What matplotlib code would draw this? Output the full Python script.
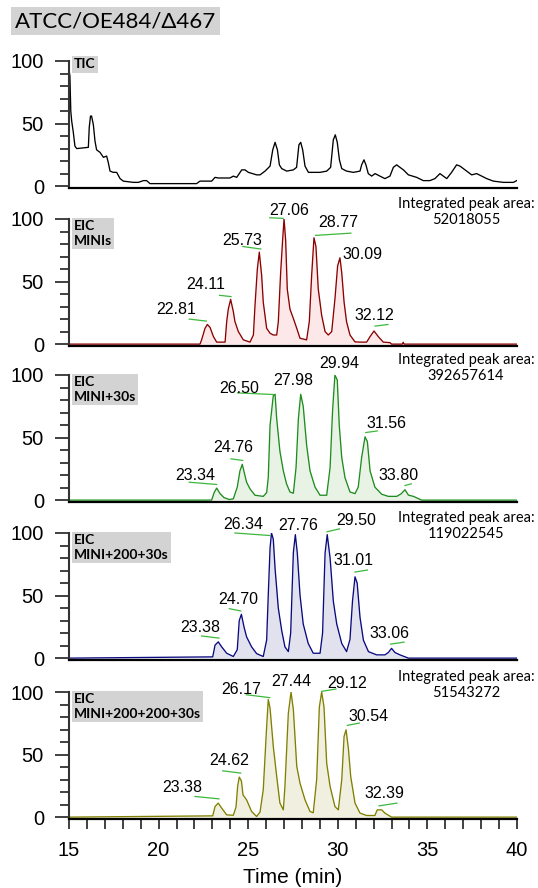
import numpy as np
import matplotlib
matplotlib.use('Agg')
import matplotlib.pyplot as plt
from matplotlib.ticker import MultipleLocator

# ---- data ----
title = 'ATCC/OE484/\u0394467'

tic_t = [15.00, 15.05, 15.10, 15.15, 15.24, 15.33, 15.43, 16.08, 16.13, 16.20,
         16.26, 16.36, 16.45, 16.54, 16.73, 16.92, 17.10, 17.19, 17.29, 17.47,
         17.66, 17.85, 18.03, 18.59, 18.87, 19.15, 19.33, 19.52, 20.08, 22.12,
         22.31, 22.96, 23.15, 23.33, 23.98, 24.17, 24.36, 24.64, 24.82, 25.01,
         25.47, 25.66, 25.94, 26.22, 26.37, 26.50, 26.63, 26.74, 26.87, 27.15,
         27.52, 27.70, 27.83, 27.93, 28.04, 28.17, 28.36, 28.63, 29.01, 29.38,
         29.60, 29.75, 29.86, 29.97, 30.09, 30.22, 30.49, 30.87, 31.24, 31.33,
         31.46, 31.57, 31.70, 31.89, 32.08, 32.35, 32.63, 32.91, 33.10, 33.28,
         33.47, 33.66, 33.94, 34.40, 34.77, 35.14, 35.42, 35.70, 35.89, 36.08,
         36.35, 36.63, 36.82, 37.10, 37.47, 37.75, 38.03, 38.31, 38.68, 39.24,
         39.80, 39.98]
tic_i = [93, 88, 60, 52, 43, 32, 30, 31, 47, 56,
         56, 49, 36, 29, 27, 23, 24, 19, 12, 11,
         11, 6, 4, 3, 3, 4.4, 4.4, 2, 2, 2,
         4, 4, 7, 6.5, 6.5, 8, 7, 13, 13, 11,
         9, 9, 12, 16, 29, 35, 29, 17, 14, 12,
         13, 15, 33, 35, 29, 16, 11, 11, 11, 12,
         15, 37, 41, 35, 21, 14, 12, 11, 12, 17,
         21, 17, 10, 8, 10, 8, 6, 8, 15, 17,
         15, 13, 9, 7, 4.4, 4.4, 6, 10, 8, 6,
         11, 17, 16, 13, 9, 10, 8, 6, 4, 3,
         3, 4.4]

red_t = [15.0, 22.31, 22.40, 22.59, 22.72, 22.87, 23.05, 23.24, 23.71, 23.80,
         23.89, 24.02, 24.17, 24.26, 24.45, 24.73, 25.10, 25.29, 25.38, 25.51,
         25.62, 25.75, 25.84, 26.03, 26.22, 26.40, 26.59, 26.68, 26.81, 26.92,
         27.00, 27.09, 27.18, 27.33, 27.52, 27.71, 27.89, 28.26, 28.41, 28.54,
         28.67, 28.78, 28.91, 29.10, 29.29, 29.47, 29.66, 29.84, 29.99, 30.12,
         30.22, 30.35, 30.49, 30.68, 30.96, 31.24, 31.61, 31.80, 32.02, 32.26,
         32.54, 32.91, 33.00, 33.60, 33.65, 33.70, 40.0]
red_i = [0, 0, 3.4, 12.6, 15.7, 13.4, 6.3, 1.6, 1.6, 18,
         28, 35.7, 26, 18, 10, 3.4, 1.6, 7.3, 31, 60,
         73.5, 55, 33.6, 12.6, 8.7, 7.3, 7.3, 17.8, 57, 83,
         100, 83, 44, 28, 20.5, 12.6, 4.7, 3.4, 18, 54.6,
         85, 78, 44, 23, 10, 7.3, 10, 36, 62.5, 69,
         57, 33.6, 17.8, 7.3, 1.8, 1.6, 1.6, 6, 10.5, 6,
         1.6, 1.2, 0, 0, 1.5, 0, 0]

grn_t = [15.0, 22.96, 23.10, 23.24, 23.43, 23.65, 23.95, 24.17, 24.39, 24.54,
         24.67, 24.78, 24.91, 25.10, 25.38, 25.84, 26.03, 26.12, 26.22, 26.40,
         26.50, 26.59, 26.77, 26.96, 27.14, 27.33, 27.52, 27.67, 27.80, 27.93,
         28.07, 28.26, 28.45, 28.73, 29.01, 29.38, 29.57, 29.71, 29.84, 29.97,
         30.08, 30.22, 30.40, 30.68, 30.96, 31.14, 31.33, 31.52, 31.65, 31.80,
         32.07, 32.45, 32.82, 33.29, 33.53, 33.75, 33.94, 34.22, 34.68, 40.0]
grn_i = [0, 0, 6, 9.6, 5.2, 2, 0.5, 1, 10.4, 23.4,
         28.6, 22, 14.3, 9, 3.9, 3, 6, 18, 60, 83.4,
         84.6, 65, 39, 23.4, 13, 6.5, 5.5, 26, 65, 84.6,
         75, 44, 23.4, 10.4, 3.9, 3.9, 26, 72, 100, 96,
         60, 34, 18, 6.5, 5.2, 10.4, 34, 50.6, 46.8, 23.4,
         10.4, 4.7, 3, 3, 5, 8.3, 4, 3, 0, 0]

nav_t = [15.0, 23.02, 23.15, 23.33, 23.52, 23.80, 24.17, 24.39, 24.50, 24.62,
         24.77, 24.91, 25.19, 25.47, 25.84, 26.03, 26.12, 26.22, 26.30, 26.40,
         26.50, 26.68, 26.87, 27.05, 27.24, 27.37, 27.52, 27.63, 27.74, 27.89,
         28.07, 28.35, 28.63, 29.01, 29.15, 29.29, 29.41, 29.57, 29.75, 29.94,
         30.22, 30.49, 30.68, 30.82, 30.96, 31.08, 31.24, 31.43, 31.71, 32.17,
         32.63, 32.82, 33.00, 33.19, 33.47, 33.94, 40.0]
nav_i = [0, 1, 10.4, 13, 9, 3.9, 1.3, 6.8, 30, 35,
         24.7, 17, 9, 3.6, 1.3, 14.5, 50.6, 88, 100, 95,
         71.5, 40, 22, 9, 5.2, 20, 84.4, 98.7, 84, 50.6,
         27.3, 11.7, 3.9, 3.9, 20, 84, 98.7, 80, 45.5, 27.3,
         11.7, 5.2, 15, 45.5, 65, 60, 32.5, 14.3, 5.2, 2.6,
         2.6, 4.5, 7.8, 4.5, 2.6, 0, 0]

olv_t = [15.0, 23.02, 23.15, 23.33, 23.52, 23.80, 24.17, 24.32, 24.41, 24.50,
         24.62, 24.71, 24.91, 25.19, 25.47, 25.66, 25.84, 26.03, 26.12, 26.22,
         26.40, 26.59, 26.77, 26.96, 27.05, 27.24, 27.39, 27.52, 27.71, 27.89,
         28.17, 28.45, 28.63, 28.82, 28.97, 29.10, 29.23, 29.38, 29.57, 29.84,
         30.03, 30.22, 30.35, 30.46, 30.59, 30.72, 30.96, 31.24, 31.61, 32.07,
         32.20, 32.45, 32.63, 33.00, 40.0]
olv_i = [0, 1, 8.5, 11.2, 7.2, 1.8, 1.5, 8, 24.5, 32,
         29, 17.8, 13.8, 4.5, 0.5, 4, 21.8, 72.5, 94, 87,
         56.5, 32.5, 11.2, 5.8, 24.5, 83, 100, 85.8, 40.5, 27.2,
         13.8, 4.5, 3.5, 30, 88, 100, 88, 43, 24.5, 8.5,
         5.8, 29.8, 64.5, 69.8, 55, 32.5, 11.2, 3.2, 1.3, 1.3,
         5.8, 5.8, 3.2, 0, 0]

panel_names = ['TIC', 'EIC\nMINIs', 'EIC\nMINI+30s', 'EIC\nMINI+200+30s', 'EIC\nMINI+200+200+30s']
peak_areas = [None, '52018055', '392657614', '119022545', '51543272']

red_lbl = ['22.81', '24.11', '25.73', '27.06', '28.77', '30.09', '32.12']
grn_lbl = ['23.34', '24.76', '26.50', '27.98', '29.94', '31.56', '33.80']
nav_lbl = ['23.38', '24.70', '26.34', '27.76', '29.50', '31.01', '33.06']
olv_lbl = ['23.38', '24.62', '26.17', '27.44', '29.12', '30.54', '32.39']

# ---- label layout (text centre and green leader line, data coords) ----
red_txt = [(20.97, 28), (22.6, 48), (24.65, 83), (27.26, 107), (30.0, 97), (31.4, 72), (32.05, 23)]
red_lead = [(21.71, 20, 22.67, 18.4), (23.4, 39, 24.04, 38), (24.7, 78, 25.7, 76), (26.2, 101, 26.95, 100.5),
            (28.76, 86.9, 30.73, 88.7), None, (32.08, 14.4, 32.8, 15.7)]
grn_txt = [(22.05, 19.5), (24.15, 42), (24.5, 89.6), (27.5, 96), (30.1, 109), (32.7, 61), (33.4, 19.5)]
grn_lead = [(21.71, 14.3, 23.24, 12.5), (24.04, 33, 24.69, 31.7), (24.4, 85.7, 26.4, 84.4), None, None,
            (31.56, 54, 32.2, 55.3), (33.75, 11.7, 34.1, 13)]
nav_txt = [(22.3, 24.7), (24.43, 46.7), (24.7, 106.5), (27.8, 105.7), (31.0, 110), (30.9, 77.9), (32.9, 20)]
nav_lead = [(22.4, 17.7, 23.37, 16), (23.95, 39.5, 24.58, 37.7), (24.26, 100, 26.2, 98), None,
            (29.4, 101, 30.1, 103.3), (30.96, 68.8, 31.65, 70.4), (32.95, 11.2, 33.7, 12.8)]
olv_txt = [(21.3, 24), (23.96, 45), (24.6, 102), (27.4, 108), (30.5, 107), (31.7, 80.5), (32.6, 18.6)]
olv_lead = [(22.03, 16.5, 23.37, 14.6), (23.58, 37, 24.58, 35.2), (24.9, 97.8, 26.2, 95.5), None,
            (29.1, 100.5, 29.9, 102.4), (30.53, 73.3, 31.2, 75.2), (32.3, 9, 33.3, 11.2)]

traces = [(tic_t, tic_i), (red_t, red_i), (grn_t, grn_i), (nav_t, nav_i), (olv_t, olv_i)]
line_cols = ['black', '#8b0000', '#1f8c1f', '#0a0a80', '#808000']
fill_cols = [None, '#fce8e8', '#e8f3e6', '#e2e2ef', '#f1f0e0']
labels = [None, (red_lbl, red_txt, red_lead), (grn_lbl, grn_txt, grn_lead),
          (nav_lbl, nav_txt, nav_lead), (olv_lbl, olv_txt, olv_lead)]

plt.rcParams['font.family'] = ['Liberation Sans', 'DejaVu Sans']
calibri = ['Lato', 'DejaVu Sans']

W, H = 538.0, 888.0
left_px, right_px = 69, 517
tops_px = [61, 219, 375, 533, 692]
height_px = 127
box_grey = '#d3d3d3'

fig = plt.figure(figsize=(W / 100, H / 100), dpi=100)
fig.text(15 / W, 1 - 21 / H, title, fontsize=16, family=calibri, ha='left', va='center',
         bbox=dict(facecolor=box_grey, edgecolor='none', pad=3))

for k in range(5):
    ax = fig.add_axes([left_px / W, 1 - (tops_px[k] + height_px) / H,
                       (right_px - left_px) / W, height_px / H])
    t, y = traces[k]
    if fill_cols[k]:
        ax.fill_between(t, y, 0, color=fill_cols[k], lw=0)
    ax.plot(t, y, color=line_cols[k], lw=0.95)

    ax.set_xlim(15, 40)
    ax.set_ylim(-1.5, 100)
    ax.spines['top'].set_visible(False)
    ax.spines['right'].set_visible(False)
    ax.spines['left'].set_linewidth(1.5)
    ax.spines['left'].set_color('#333333')
    ax.spines['bottom'].set_linewidth(1.6)
    ax.spines['bottom'].set_color('black')
    ax.yaxis.set_major_locator(MultipleLocator(50))
    ax.yaxis.set_minor_locator(MultipleLocator(10))
    ax.tick_params(axis='y', which='major', length=10, width=1.3, pad=8, labelsize=14.5, color='#333333')
    ax.tick_params(axis='y', which='minor', length=6.5, width=1.3, color='#333333')
    if k == 4:
        ax.xaxis.set_major_locator(MultipleLocator(5))
        ax.xaxis.set_minor_locator(MultipleLocator(1))
        ax.tick_params(axis='x', which='both', length=7.5, width=1.3, pad=8, labelsize=14.5, color='#333333')
        ax.set_xlabel('Time (min)', fontsize=15, labelpad=6)
    else:
        ax.tick_params(axis='x', which='both', bottom=False, labelbottom=False)

    ax.text(0.011, 0.99 if k else 1.02, panel_names[k], transform=ax.transAxes, ha='left', va='top',
            fontsize=10, fontweight='bold', family=calibri, linespacing=1.3,
            bbox=dict(facecolor=box_grey, edgecolor='none', pad=1.5))

    if peak_areas[k]:
        ax.text(0.886, 1.055, 'Integrated peak area:\n' + peak_areas[k], transform=ax.transAxes,
                ha='center', va='center', fontsize=10.5, family=calibri, linespacing=1.2)

    if labels[k]:
        lbls, txt, lead = labels[k]
        for s, (tx, ty), ld in zip(lbls, txt, lead):
            ax.text(tx, ty, s, ha='center', va='center', fontsize=11.5)
            if ld:
                ax.plot([ld[0], ld[2]], [ld[1], ld[3]], color='#3cb83c', lw=0.9, clip_on=False)

fig.savefig('out.png', dpi=100)
